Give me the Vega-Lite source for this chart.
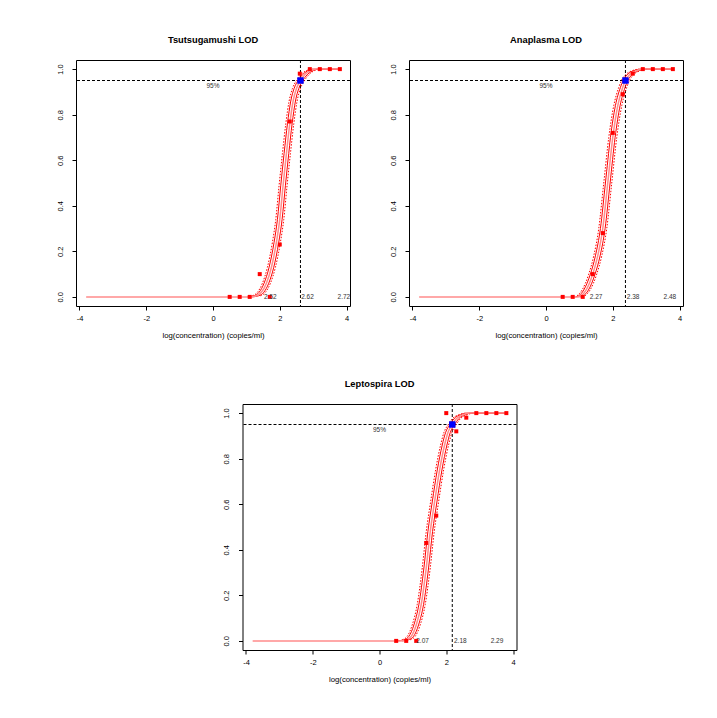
{
"$schema":"https://vega.github.io/schema/vega-lite/v6.json",
"background":"white",
"autosize":{"type":"pad"},
"padding":{"left":55,"top":35,"right":0,"bottom":0},
"config":{
 "view":{"stroke":"black","strokeWidth":1},
 "axis":{"domain":false,"grid":false,"ticks":true,"tickColor":"black","tickSize":4,"labelFont":"Liberation Sans","labelFontSize":7.5,"labelColor":"black","titleFont":"Liberation Sans","titleFontSize":7.75,"titleFontWeight":"normal","titleColor":"black"},
 "title":{"font":"Liberation Sans","fontSize":9.3,"fontWeight":"bold","color":"black","offset":14}
},
"datasets":{
"p1":[
{"s":"pt","x":0.5,"y":0},{"s":"pt","x":0.8,"y":0},{"s":"pt","x":1.1,"y":0},{"s":"pt","x":1.4,"y":0.1},{"s":"pt","x":1.7,"y":0},{"s":"pt","x":2.0,"y":0.23},{"s":"pt","x":2.3,"y":0.77},{"s":"pt","x":2.6,"y":0.98},{"s":"pt","x":2.9,"y":1},{"s":"pt","x":3.2,"y":1},{"s":"pt","x":3.5,"y":1},{"s":"pt","x":3.8,"y":1},
{"s":"lod","x":2.62,"y":0.95},
{"s":"lab","x":0,"y":0.928,"t":"95%"},{"s":"lab","x":1.72,"y":0,"t":"2.52"},{"s":"lab","x":2.83,"y":0,"t":"2.62"},{"s":"lab","x":3.92,"y":0,"t":"2.72"},
{"s":"fit","x":-3.8,"y":0},{"s":"fit","x":1.1,"y":0},{"s":"fit","x":1.3,"y":0.005},{"s":"fit","x":1.45,"y":0.02},{"s":"fit","x":1.6,"y":0.06},{"s":"fit","x":1.75,"y":0.13},{"s":"fit","x":1.9,"y":0.24},{"s":"fit","x":2.0,"y":0.34},{"s":"fit","x":2.1,"y":0.49},{"s":"fit","x":2.2,"y":0.63},{"s":"fit","x":2.3,"y":0.76},{"s":"fit","x":2.4,"y":0.86},{"s":"fit","x":2.5,"y":0.915},{"s":"fit","x":2.62,"y":0.95},{"s":"fit","x":2.75,"y":0.975},{"s":"fit","x":2.9,"y":0.992},{"s":"fit","x":3.1,"y":1},{"s":"fit","x":3.8,"y":1},
{"s":"lo","x":1.03,"y":0},{"s":"lo","x":1.23,"y":0.005},{"s":"lo","x":1.38,"y":0.02},{"s":"lo","x":1.53,"y":0.06},{"s":"lo","x":1.68,"y":0.13},{"s":"lo","x":1.83,"y":0.24},{"s":"lo","x":1.93,"y":0.34},{"s":"lo","x":2.03,"y":0.49},{"s":"lo","x":2.13,"y":0.63},{"s":"lo","x":2.23,"y":0.76},{"s":"lo","x":2.33,"y":0.86},{"s":"lo","x":2.43,"y":0.915},{"s":"lo","x":2.55,"y":0.95},{"s":"lo","x":2.68,"y":0.975},{"s":"lo","x":2.83,"y":0.992},{"s":"lo","x":3.03,"y":1},{"s":"lo","x":3.8,"y":1},
{"s":"hi","x":1.17,"y":0},{"s":"hi","x":1.37,"y":0.005},{"s":"hi","x":1.52,"y":0.02},{"s":"hi","x":1.67,"y":0.06},{"s":"hi","x":1.82,"y":0.13},{"s":"hi","x":1.97,"y":0.24},{"s":"hi","x":2.07,"y":0.34},{"s":"hi","x":2.17,"y":0.49},{"s":"hi","x":2.27,"y":0.63},{"s":"hi","x":2.37,"y":0.76},{"s":"hi","x":2.47,"y":0.86},{"s":"hi","x":2.57,"y":0.915},{"s":"hi","x":2.69,"y":0.95},{"s":"hi","x":2.82,"y":0.975},{"s":"hi","x":2.97,"y":0.992},{"s":"hi","x":3.17,"y":1},{"s":"hi","x":3.8,"y":1},
{"s":"dlo","x":1.18,"y":0.005},{"s":"dlo","x":1.33,"y":0.02},{"s":"dlo","x":1.48,"y":0.06},{"s":"dlo","x":1.63,"y":0.13},{"s":"dlo","x":1.78,"y":0.24},{"s":"dlo","x":1.88,"y":0.34},{"s":"dlo","x":1.98,"y":0.49},{"s":"dlo","x":2.08,"y":0.63},{"s":"dlo","x":2.18,"y":0.76},{"s":"dlo","x":2.28,"y":0.86},{"s":"dlo","x":2.38,"y":0.915},{"s":"dlo","x":2.5,"y":0.95},{"s":"dlo","x":2.63,"y":0.975},{"s":"dlo","x":2.78,"y":0.992},{"s":"dlo","x":2.98,"y":1},
{"s":"dhi","x":1.42,"y":0.005},{"s":"dhi","x":1.57,"y":0.02},{"s":"dhi","x":1.72,"y":0.06},{"s":"dhi","x":1.87,"y":0.13},{"s":"dhi","x":2.02,"y":0.24},{"s":"dhi","x":2.12,"y":0.34},{"s":"dhi","x":2.22,"y":0.49},{"s":"dhi","x":2.32,"y":0.63},{"s":"dhi","x":2.42,"y":0.76},{"s":"dhi","x":2.52,"y":0.86},{"s":"dhi","x":2.62,"y":0.915},{"s":"dhi","x":2.74,"y":0.95},{"s":"dhi","x":2.87,"y":0.975},{"s":"dhi","x":3.02,"y":0.992},{"s":"dhi","x":3.22,"y":1}
],
"p2":[
{"s":"pt","x":0.5,"y":0},{"s":"pt","x":0.8,"y":0},{"s":"pt","x":1.1,"y":0},{"s":"pt","x":1.4,"y":0.1},{"s":"pt","x":1.7,"y":0.28},{"s":"pt","x":2.0,"y":0.72},{"s":"pt","x":2.3,"y":0.89},{"s":"pt","x":2.6,"y":0.98},{"s":"pt","x":2.9,"y":1},{"s":"pt","x":3.2,"y":1},{"s":"pt","x":3.5,"y":1},{"s":"pt","x":3.8,"y":1},
{"s":"lod","x":2.38,"y":0.95},
{"s":"lab","x":0,"y":0.928,"t":"95%"},{"s":"lab","x":1.5,"y":0,"t":"2.27"},{"s":"lab","x":2.61,"y":0,"t":"2.38"},{"s":"lab","x":3.71,"y":0,"t":"2.48"},
{"s":"fit","x":-3.8,"y":0},{"s":"fit","x":0.95,"y":0},{"s":"fit","x":1.05,"y":0.005},{"s":"fit","x":1.2,"y":0.03},{"s":"fit","x":1.3,"y":0.06},{"s":"fit","x":1.4,"y":0.1},{"s":"fit","x":1.55,"y":0.18},{"s":"fit","x":1.7,"y":0.3},{"s":"fit","x":1.85,"y":0.5},{"s":"fit","x":2.0,"y":0.7},{"s":"fit","x":2.15,"y":0.84},{"s":"fit","x":2.3,"y":0.92},{"s":"fit","x":2.38,"y":0.95},{"s":"fit","x":2.5,"y":0.975},{"s":"fit","x":2.7,"y":0.993},{"s":"fit","x":2.9,"y":1},{"s":"fit","x":3.8,"y":1},
{"s":"lo","x":0.88,"y":0},{"s":"lo","x":0.98,"y":0.005},{"s":"lo","x":1.13,"y":0.03},{"s":"lo","x":1.23,"y":0.06},{"s":"lo","x":1.33,"y":0.1},{"s":"lo","x":1.48,"y":0.18},{"s":"lo","x":1.63,"y":0.3},{"s":"lo","x":1.78,"y":0.5},{"s":"lo","x":1.93,"y":0.7},{"s":"lo","x":2.08,"y":0.84},{"s":"lo","x":2.23,"y":0.92},{"s":"lo","x":2.31,"y":0.95},{"s":"lo","x":2.43,"y":0.975},{"s":"lo","x":2.63,"y":0.993},{"s":"lo","x":2.83,"y":1},{"s":"lo","x":3.8,"y":1},
{"s":"hi","x":1.02,"y":0},{"s":"hi","x":1.12,"y":0.005},{"s":"hi","x":1.27,"y":0.03},{"s":"hi","x":1.37,"y":0.06},{"s":"hi","x":1.47,"y":0.1},{"s":"hi","x":1.62,"y":0.18},{"s":"hi","x":1.77,"y":0.3},{"s":"hi","x":1.92,"y":0.5},{"s":"hi","x":2.07,"y":0.7},{"s":"hi","x":2.22,"y":0.84},{"s":"hi","x":2.37,"y":0.92},{"s":"hi","x":2.45,"y":0.95},{"s":"hi","x":2.57,"y":0.975},{"s":"hi","x":2.77,"y":0.993},{"s":"hi","x":2.97,"y":1},{"s":"hi","x":3.8,"y":1},
{"s":"dlo","x":0.93,"y":0.005},{"s":"dlo","x":1.08,"y":0.03},{"s":"dlo","x":1.18,"y":0.06},{"s":"dlo","x":1.28,"y":0.1},{"s":"dlo","x":1.43,"y":0.18},{"s":"dlo","x":1.58,"y":0.3},{"s":"dlo","x":1.73,"y":0.5},{"s":"dlo","x":1.88,"y":0.7},{"s":"dlo","x":2.03,"y":0.84},{"s":"dlo","x":2.18,"y":0.92},{"s":"dlo","x":2.26,"y":0.95},{"s":"dlo","x":2.38,"y":0.975},{"s":"dlo","x":2.58,"y":0.993},{"s":"dlo","x":2.78,"y":1},
{"s":"dhi","x":1.17,"y":0.005},{"s":"dhi","x":1.32,"y":0.03},{"s":"dhi","x":1.42,"y":0.06},{"s":"dhi","x":1.52,"y":0.1},{"s":"dhi","x":1.67,"y":0.18},{"s":"dhi","x":1.82,"y":0.3},{"s":"dhi","x":1.97,"y":0.5},{"s":"dhi","x":2.12,"y":0.7},{"s":"dhi","x":2.27,"y":0.84},{"s":"dhi","x":2.42,"y":0.92},{"s":"dhi","x":2.5,"y":0.95},{"s":"dhi","x":2.62,"y":0.975},{"s":"dhi","x":2.82,"y":0.993},{"s":"dhi","x":3.02,"y":1}
],
"p3":[
{"s":"pt","x":0.5,"y":0},{"s":"pt","x":0.8,"y":0},{"s":"pt","x":1.1,"y":0},{"s":"pt","x":1.4,"y":0.43},{"s":"pt","x":1.7,"y":0.55},{"s":"pt","x":2.0,"y":1},{"s":"pt","x":2.3,"y":0.92},{"s":"pt","x":2.6,"y":0.98},{"s":"pt","x":2.9,"y":1},{"s":"pt","x":3.2,"y":1},{"s":"pt","x":3.5,"y":1},{"s":"pt","x":3.8,"y":1},
{"s":"lod","x":2.18,"y":0.95},
{"s":"lab","x":0,"y":0.927,"t":"95%"},{"s":"lab","x":1.29,"y":0,"t":"2.07"},{"s":"lab","x":2.42,"y":0,"t":"2.18"},{"s":"lab","x":3.52,"y":0,"t":"2.29"},
{"s":"fit","x":-3.8,"y":0},{"s":"fit","x":0.6,"y":0},{"s":"fit","x":0.8,"y":0.005},{"s":"fit","x":0.95,"y":0.02},{"s":"fit","x":1.1,"y":0.07},{"s":"fit","x":1.25,"y":0.16},{"s":"fit","x":1.4,"y":0.32},{"s":"fit","x":1.52,"y":0.48},{"s":"fit","x":1.65,"y":0.61},{"s":"fit","x":1.8,"y":0.75},{"s":"fit","x":1.95,"y":0.86},{"s":"fit","x":2.05,"y":0.915},{"s":"fit","x":2.18,"y":0.95},{"s":"fit","x":2.3,"y":0.975},{"s":"fit","x":2.5,"y":0.993},{"s":"fit","x":2.7,"y":1},{"s":"fit","x":3.8,"y":1},
{"s":"lo","x":0.53,"y":0},{"s":"lo","x":0.73,"y":0.005},{"s":"lo","x":0.88,"y":0.02},{"s":"lo","x":1.03,"y":0.07},{"s":"lo","x":1.18,"y":0.16},{"s":"lo","x":1.33,"y":0.32},{"s":"lo","x":1.45,"y":0.48},{"s":"lo","x":1.58,"y":0.61},{"s":"lo","x":1.73,"y":0.75},{"s":"lo","x":1.88,"y":0.86},{"s":"lo","x":1.98,"y":0.915},{"s":"lo","x":2.11,"y":0.95},{"s":"lo","x":2.23,"y":0.975},{"s":"lo","x":2.43,"y":0.993},{"s":"lo","x":2.63,"y":1},{"s":"lo","x":3.8,"y":1},
{"s":"hi","x":0.67,"y":0},{"s":"hi","x":0.87,"y":0.005},{"s":"hi","x":1.02,"y":0.02},{"s":"hi","x":1.17,"y":0.07},{"s":"hi","x":1.32,"y":0.16},{"s":"hi","x":1.47,"y":0.32},{"s":"hi","x":1.59,"y":0.48},{"s":"hi","x":1.72,"y":0.61},{"s":"hi","x":1.87,"y":0.75},{"s":"hi","x":2.02,"y":0.86},{"s":"hi","x":2.12,"y":0.915},{"s":"hi","x":2.25,"y":0.95},{"s":"hi","x":2.37,"y":0.975},{"s":"hi","x":2.57,"y":0.993},{"s":"hi","x":2.77,"y":1},{"s":"hi","x":3.8,"y":1},
{"s":"dlo","x":0.68,"y":0.005},{"s":"dlo","x":0.83,"y":0.02},{"s":"dlo","x":0.98,"y":0.07},{"s":"dlo","x":1.13,"y":0.16},{"s":"dlo","x":1.28,"y":0.32},{"s":"dlo","x":1.4,"y":0.48},{"s":"dlo","x":1.53,"y":0.61},{"s":"dlo","x":1.68,"y":0.75},{"s":"dlo","x":1.83,"y":0.86},{"s":"dlo","x":1.93,"y":0.915},{"s":"dlo","x":2.06,"y":0.95},{"s":"dlo","x":2.18,"y":0.975},{"s":"dlo","x":2.38,"y":0.993},{"s":"dlo","x":2.58,"y":1},
{"s":"dhi","x":0.92,"y":0.005},{"s":"dhi","x":1.07,"y":0.02},{"s":"dhi","x":1.22,"y":0.07},{"s":"dhi","x":1.37,"y":0.16},{"s":"dhi","x":1.52,"y":0.32},{"s":"dhi","x":1.64,"y":0.48},{"s":"dhi","x":1.77,"y":0.61},{"s":"dhi","x":1.92,"y":0.75},{"s":"dhi","x":2.07,"y":0.86},{"s":"dhi","x":2.17,"y":0.915},{"s":"dhi","x":2.3,"y":0.95},{"s":"dhi","x":2.42,"y":0.975},{"s":"dhi","x":2.62,"y":0.993},{"s":"dhi","x":2.82,"y":1}
]
},
"vconcat":[
{"hconcat":[
{"width":274,"height":246,"title":"Tsutsugamushi LOD","data":{"name":"p1"},"layer":[
 {"transform":[{"filter":"datum.s=='lod'"}],"mark":{"type":"rule","strokeDash":[3,2],"color":"black"},"encoding":{"y":{"field":"y","type":"quantitative"}}},
 {"transform":[{"filter":"datum.s=='lod'"}],"mark":{"type":"rule","strokeDash":[3,2],"color":"black"},"encoding":{"x":{"field":"x","type":"quantitative"}}},
 {"transform":[{"filter":"datum.s=='lo'||datum.s=='hi'"}],"mark":{"type":"line","color":"#ff0000","strokeWidth":1,"interpolate":"monotone"},"encoding":{"x":{"field":"x","type":"quantitative","scale":{"domain":[-4.104,4.104],"nice":false,"zero":false},"axis":{"values":[-4,-2,0,2,4],"labelExpr":"''+datum.value","title":"log(concentration) (copies/ml)","labelPadding":4,"titlePadding":10}},"y":{"field":"y","type":"quantitative","scale":{"domain":[-0.04,1.04],"nice":false,"zero":false},"axis":{"values":[0,0.2,0.4,0.6,0.8,1],"format":".1f","title":null,"labelAngle":270,"labelPadding":8}},"detail":{"field":"s"}}},
 {"transform":[{"filter":"datum.s=='dlo'||datum.s=='dhi'"}],"mark":{"type":"line","color":"#ff0000","strokeWidth":1,"strokeDash":[1.5,1.5],"interpolate":"monotone"},"encoding":{"x":{"field":"x","type":"quantitative"},"y":{"field":"y","type":"quantitative"},"detail":{"field":"s"}}},
 {"transform":[{"filter":"datum.s=='fit'"}],"mark":{"type":"line","color":"#ff8c8c","strokeWidth":1.5,"interpolate":"monotone"},"encoding":{"x":{"field":"x","type":"quantitative"},"y":{"field":"y","type":"quantitative"}}},
 {"transform":[{"filter":"datum.s=='pt'"}],"mark":{"type":"square","color":"#ff0000","filled":true,"opacity":1,"size":16},"encoding":{"x":{"field":"x","type":"quantitative"},"y":{"field":"y","type":"quantitative"}}},
 {"transform":[{"filter":"datum.s=='lod'"}],"mark":{"type":"square","color":"#0000ff","filled":true,"opacity":1,"size":42},"encoding":{"x":{"field":"x","type":"quantitative"},"y":{"field":"y","type":"quantitative"}}},
 {"transform":[{"filter":"datum.s=='lab'"}],"mark":{"type":"text","font":"Liberation Sans","fontSize":6.5,"color":"#333333"},"encoding":{"x":{"field":"x","type":"quantitative"},"y":{"field":"y","type":"quantitative"},"text":{"field":"t"}}}
]},
{"width":274,"height":246,"title":"Anaplasma LOD","data":{"name":"p2"},"layer":[
 {"transform":[{"filter":"datum.s=='lod'"}],"mark":{"type":"rule","strokeDash":[3,2],"color":"black"},"encoding":{"y":{"field":"y","type":"quantitative"}}},
 {"transform":[{"filter":"datum.s=='lod'"}],"mark":{"type":"rule","strokeDash":[3,2],"color":"black"},"encoding":{"x":{"field":"x","type":"quantitative"}}},
 {"transform":[{"filter":"datum.s=='lo'||datum.s=='hi'"}],"mark":{"type":"line","color":"#ff0000","strokeWidth":1,"interpolate":"monotone"},"encoding":{"x":{"field":"x","type":"quantitative","scale":{"domain":[-4.104,4.104],"nice":false,"zero":false},"axis":{"values":[-4,-2,0,2,4],"labelExpr":"''+datum.value","title":"log(concentration) (copies/ml)","labelPadding":4,"titlePadding":10}},"y":{"field":"y","type":"quantitative","scale":{"domain":[-0.04,1.04],"nice":false,"zero":false},"axis":{"values":[0,0.2,0.4,0.6,0.8,1],"format":".1f","title":null,"labelAngle":270,"labelPadding":8}},"detail":{"field":"s"}}},
 {"transform":[{"filter":"datum.s=='dlo'||datum.s=='dhi'"}],"mark":{"type":"line","color":"#ff0000","strokeWidth":1,"strokeDash":[1.5,1.5],"interpolate":"monotone"},"encoding":{"x":{"field":"x","type":"quantitative"},"y":{"field":"y","type":"quantitative"},"detail":{"field":"s"}}},
 {"transform":[{"filter":"datum.s=='fit'"}],"mark":{"type":"line","color":"#ff8c8c","strokeWidth":1.5,"interpolate":"monotone"},"encoding":{"x":{"field":"x","type":"quantitative"},"y":{"field":"y","type":"quantitative"}}},
 {"transform":[{"filter":"datum.s=='pt'"}],"mark":{"type":"square","color":"#ff0000","filled":true,"opacity":1,"size":16},"encoding":{"x":{"field":"x","type":"quantitative"},"y":{"field":"y","type":"quantitative"}}},
 {"transform":[{"filter":"datum.s=='lod'"}],"mark":{"type":"square","color":"#0000ff","filled":true,"opacity":1,"size":42},"encoding":{"x":{"field":"x","type":"quantitative"},"y":{"field":"y","type":"quantitative"}}},
 {"transform":[{"filter":"datum.s=='lab'"}],"mark":{"type":"text","font":"Liberation Sans","fontSize":6.5,"color":"#333333"},"encoding":{"x":{"field":"x","type":"quantitative"},"y":{"field":"y","type":"quantitative"},"text":{"field":"t"}}}
]}
],"spacing":37},
{"width":274,"height":246,"title":"Leptospira LOD","data":{"name":"p3"},"layer":[
 {"transform":[{"filter":"datum.s=='lod'"}],"mark":{"type":"rule","strokeDash":[3,2],"color":"black"},"encoding":{"y":{"field":"y","type":"quantitative"}}},
 {"transform":[{"filter":"datum.s=='lod'"}],"mark":{"type":"rule","strokeDash":[3,2],"color":"black"},"encoding":{"x":{"field":"x","type":"quantitative"}}},
 {"transform":[{"filter":"datum.s=='lo'||datum.s=='hi'"}],"mark":{"type":"line","color":"#ff0000","strokeWidth":1,"interpolate":"monotone"},"encoding":{"x":{"field":"x","type":"quantitative","scale":{"domain":[-4.104,4.104],"nice":false,"zero":false},"axis":{"values":[-4,-2,0,2,4],"labelExpr":"''+datum.value","title":"log(concentration) (copies/ml)","labelPadding":4,"titlePadding":10}},"y":{"field":"y","type":"quantitative","scale":{"domain":[-0.04,1.04],"nice":false,"zero":false},"axis":{"values":[0,0.2,0.4,0.6,0.8,1],"format":".1f","title":null,"labelAngle":270,"labelPadding":8}},"detail":{"field":"s"}}},
 {"transform":[{"filter":"datum.s=='dlo'||datum.s=='dhi'"}],"mark":{"type":"line","color":"#ff0000","strokeWidth":1,"strokeDash":[1.5,1.5],"interpolate":"monotone"},"encoding":{"x":{"field":"x","type":"quantitative"},"y":{"field":"y","type":"quantitative"},"detail":{"field":"s"}}},
 {"transform":[{"filter":"datum.s=='fit'"}],"mark":{"type":"line","color":"#ff8c8c","strokeWidth":1.5,"interpolate":"monotone"},"encoding":{"x":{"field":"x","type":"quantitative"},"y":{"field":"y","type":"quantitative"}}},
 {"transform":[{"filter":"datum.s=='pt'"}],"mark":{"type":"square","color":"#ff0000","filled":true,"opacity":1,"size":16},"encoding":{"x":{"field":"x","type":"quantitative"},"y":{"field":"y","type":"quantitative"}}},
 {"transform":[{"filter":"datum.s=='lod'"}],"mark":{"type":"square","color":"#0000ff","filled":true,"opacity":1,"size":42},"encoding":{"x":{"field":"x","type":"quantitative"},"y":{"field":"y","type":"quantitative"}}},
 {"transform":[{"filter":"datum.s=='lab'"}],"mark":{"type":"text","font":"Liberation Sans","fontSize":6.5,"color":"#333333"},"encoding":{"x":{"field":"x","type":"quantitative"},"y":{"field":"y","type":"quantitative"},"text":{"field":"t"}}}
]}
],
"spacing":39,
"center":true
}
